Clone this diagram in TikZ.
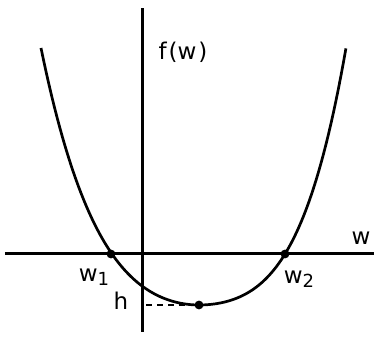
\documentclass[tikz,border=0pt]{standalone}
\usepackage{fontspec}
\setmainfont{DejaVu Sans}
\tikzset{
  lbl/.style={font=\fontsize{11.5}{13}\selectfont,inner sep=0pt},
  dot/.style={circle,fill,inner sep=0pt,minimum size=4.4pt},
}
\newcommand{\sub}[1]{\raisebox{-0.35ex}{\fontsize{9}{10}\selectfont #1}}
\begin{document}
\begin{tikzpicture}[x=0.5pt,y=0.5pt,line width=1.5pt]
\useasboundingbox (-142,-86) rectangle (232,254);
% axes
\coordinate (xl) at (-137,0);
\coordinate (xr) at (232,0);
\coordinate (yb) at (0,-78);
\coordinate (yt) at (0,246);
\draw (xl) -- (xr);
\draw (yb) -- (yt);
\node[lbl] (fw) at (41,202) {f\kern1pt(w\kern1pt)};
\node[lbl] (wx) at (219,16) {w};
% curve
\draw[line width=1.35pt] plot[domain=-1.58:0,samples=60] ({57+100*\x},{-51+51.9*\x*\x+20.45*\x*\x*\x*\x})
  -- plot[domain=0:1.47,samples=60] ({57+100*\x},{-51+42.94*\x*\x+35.17*\x*\x*\x*\x});
% roots and minimum
\node[dot] (w1pt) at (-31,0) {};
\node[dot] (w2pt) at (143,0) {};
\node[dot] (minpt) at (57,-51) {};
\node[lbl] (w1) at (-48,-23) {w\sub{1}};
\node[lbl] (w2) at (157,-25) {w\sub{2}};
\node[lbl] (h) at (-21,-47) {h};
\coordinate (hfoot) at (4,-51);
\draw[line width=1.1pt,dash pattern=on 3pt off 2.5pt] (hfoot) -- (minpt);
\end{tikzpicture}
\end{document}
